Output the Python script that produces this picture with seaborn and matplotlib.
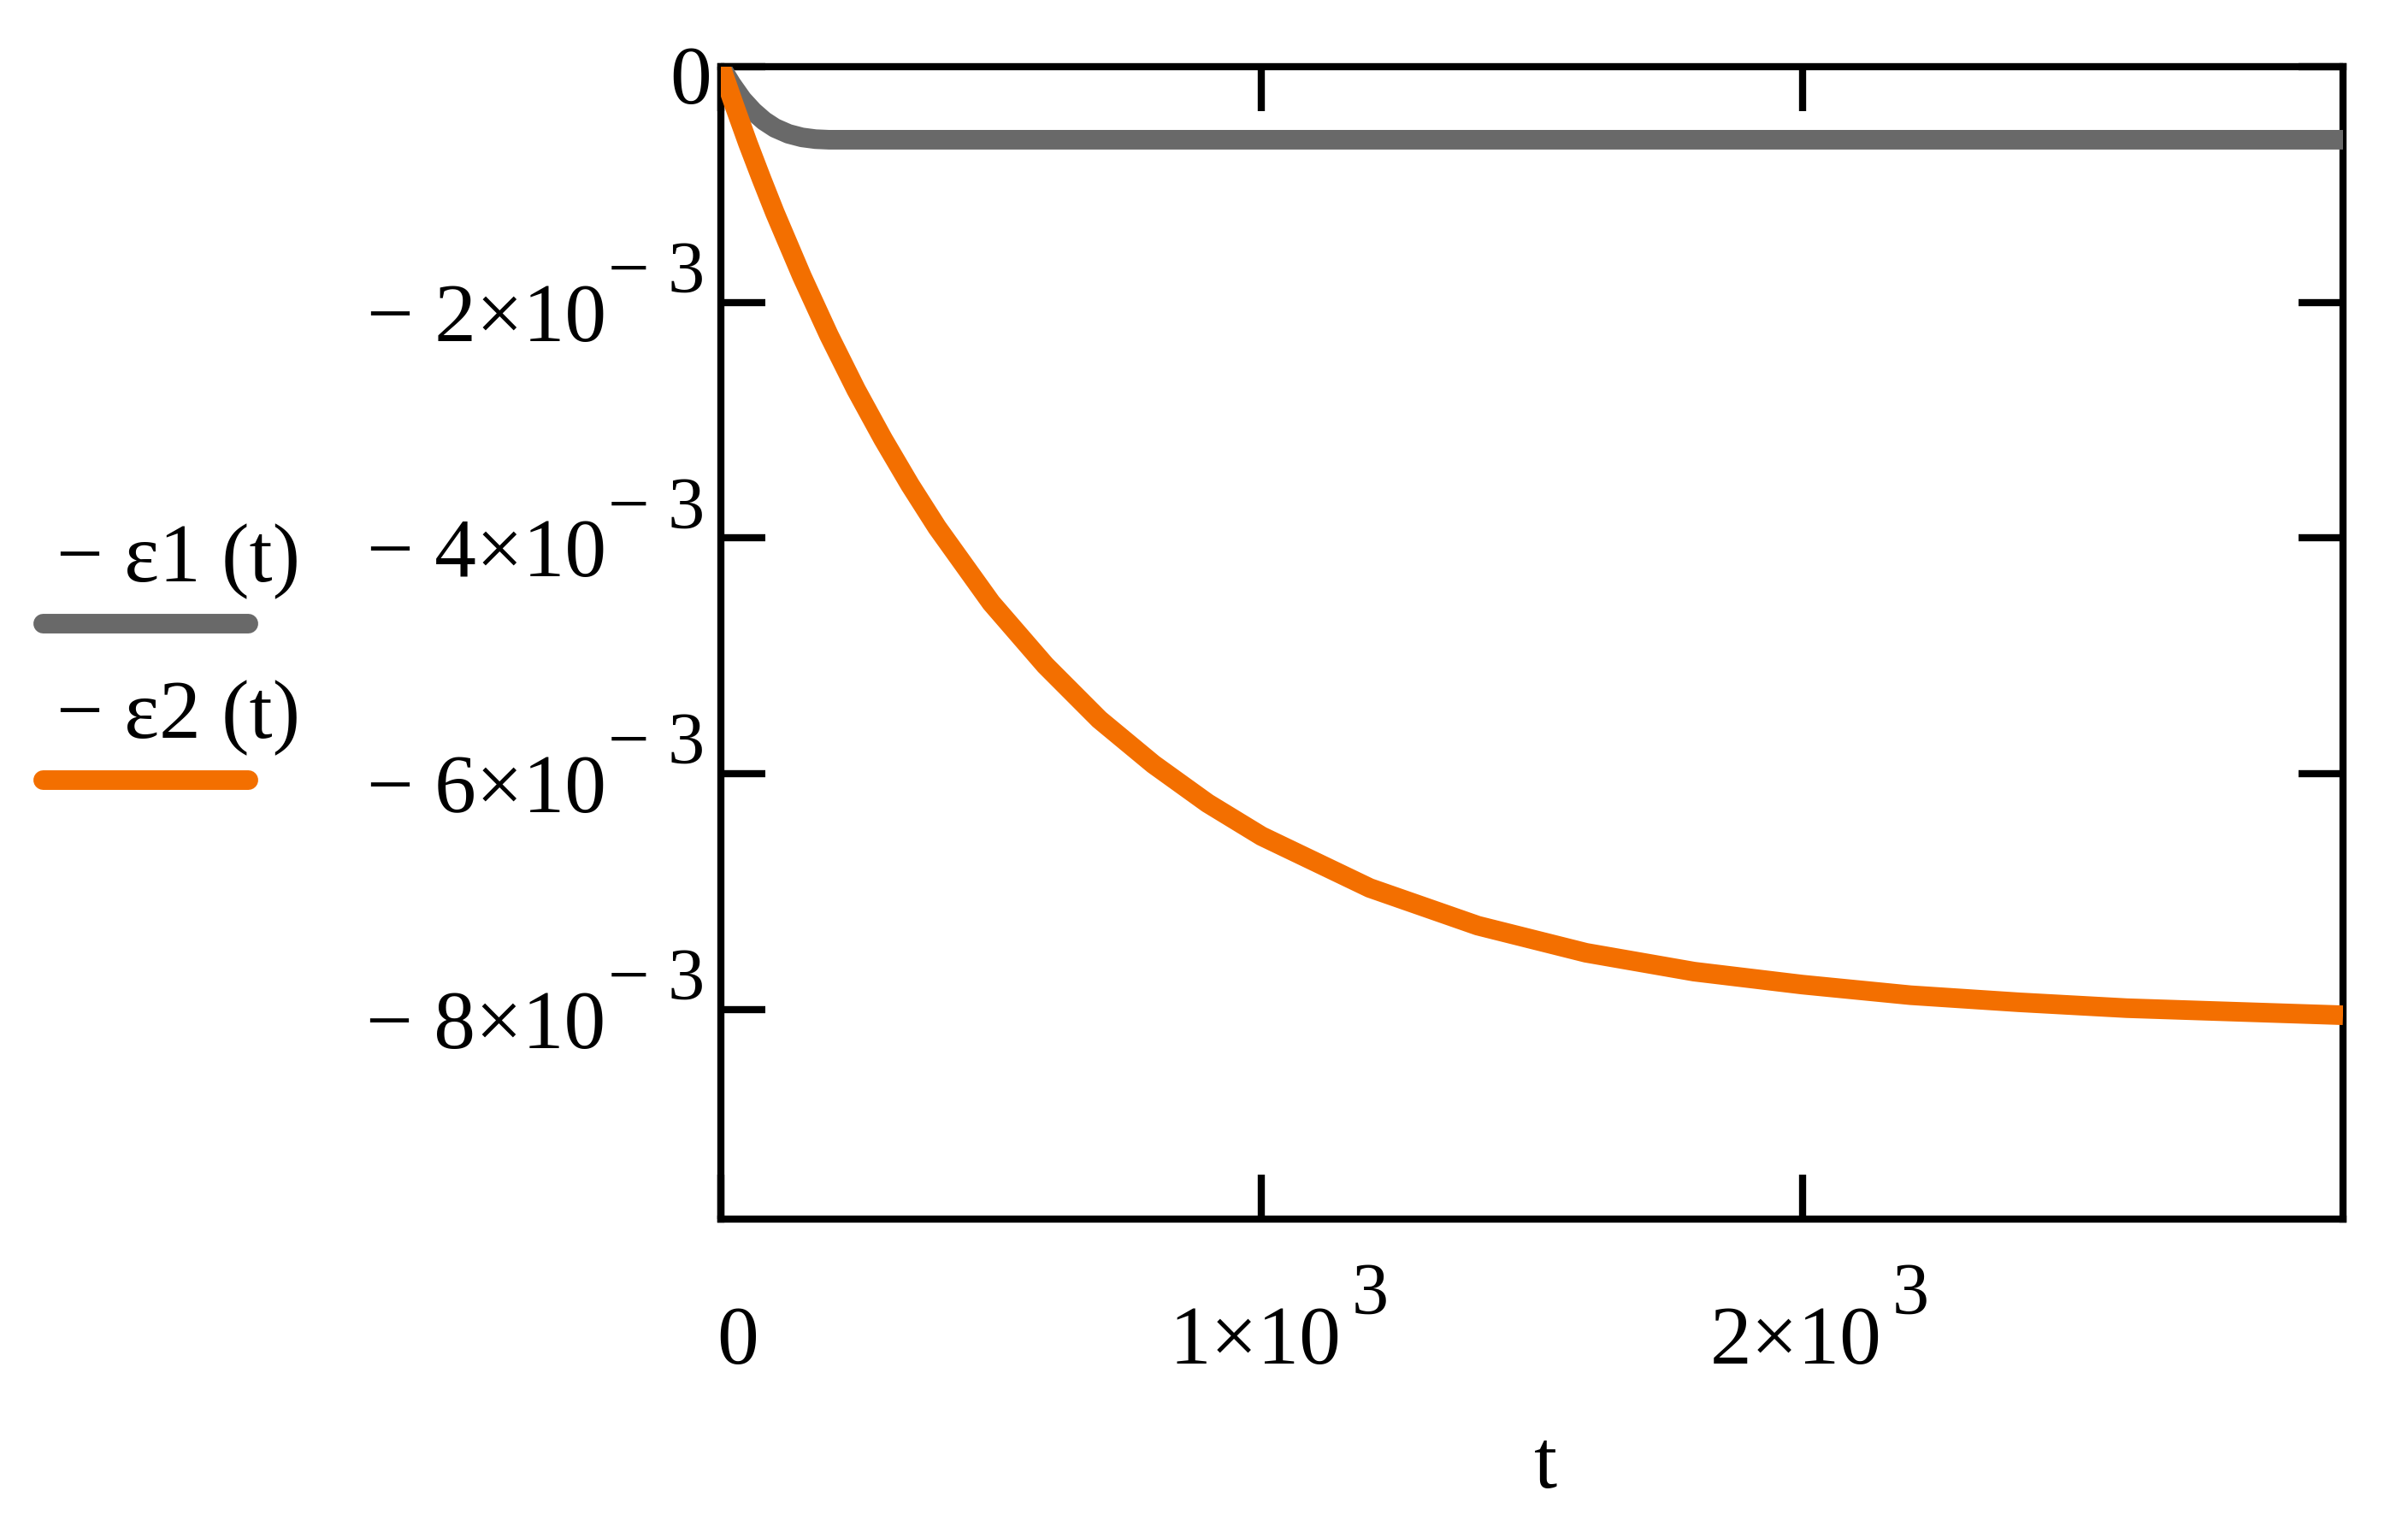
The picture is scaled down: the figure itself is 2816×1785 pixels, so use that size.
import numpy as np
import pandas as pd
import matplotlib
matplotlib.use("Agg")
import matplotlib.pyplot as plt
import seaborn as sns
from matplotlib.lines import Line2D

# ---------------- data ----------------
t_eps1 = [0, 20, 40, 60, 80, 100, 125, 150, 175, 200, 300, 500, 1000, 2000, 3000]
eps1 = [0.0, -0.15e-3, -0.28e-3, -0.38e-3, -0.46e-3, -0.52e-3, -0.57e-3, -0.60e-3,
        -0.615e-3, -0.62e-3, -0.62e-3, -0.62e-3, -0.62e-3, -0.62e-3, -0.62e-3]

t_eps2 = [0, 25, 50, 75, 100, 150, 200, 250, 300, 350, 400, 500, 600, 700, 800, 900,
          1000, 1200, 1400, 1600, 1800, 2000, 2200, 2400, 2600, 2800, 3000]
eps2 = [0.0, -0.33e-3, -0.65e-3, -0.95e-3, -1.24e-3, -1.78e-3, -2.28e-3, -2.74e-3,
        -3.16e-3, -3.55e-3, -3.91e-3, -4.55e-3, -5.08e-3, -5.54e-3, -5.92e-3, -6.25e-3,
        -6.53e-3, -6.97e-3, -7.29e-3, -7.52e-3, -7.68e-3, -7.79e-3, -7.88e-3, -7.94e-3,
        -7.99e-3, -8.02e-3, -8.05e-3]

series_labels = ["\u2212 \u03b51 (t)", "\u2212 \u03b52 (t)"]
series_colors = ["#696969", "#F36F00"]

x_ticks = [0, 1000, 2000]
x_tick_main = ["0", "1\u00d710", "2\u00d710"]
x_tick_exp = ["", "3", "3"]
y_ticks = [0, -2e-3, -4e-3, -6e-3, -8e-3]
y_tick_main = ["0", "\u2212 2\u00d710", "\u2212 4\u00d710", "\u2212 6\u00d710", "\u2212 8\u00d710"]
y_tick_exp = ["", "\u2212 3", "\u2212 3", "\u2212 3", "\u2212 3"]
x_label = "t"

# ---------------- style ----------------
sns.set_theme(style="white")
SERIF = ["Liberation Serif", "DejaVu Serif"]
plt.rcParams["font.family"] = SERIF
plt.rcParams["text.color"] = "black"
plt.rcParams["axes.labelcolor"] = "black"

W, H, DPI = 2816, 1785, 100
fig = plt.figure(figsize=(W / DPI, H / DPI), dpi=DPI)
fig.patch.set_facecolor("white")

ax_left, ax_right, ax_top, ax_bot = 843, 2740, 78, 1426
ax = fig.add_axes([ax_left / W, 1 - ax_bot / H, (ax_right - ax_left) / W, (ax_bot - ax_top) / H])
ax.set_facecolor("white")

df1 = pd.DataFrame({"t": t_eps1, "value": eps1})
df2 = pd.DataFrame({"t": t_eps2, "value": eps2})

LW = 16.5
sns.lineplot(data=df1, x="t", y="value", ax=ax, color=series_colors[0], linewidth=LW,
             legend=False, estimator=None, sort=False)
sns.lineplot(data=df2, x="t", y="value", ax=ax, color=series_colors[1], linewidth=LW,
             legend=False, estimator=None, sort=False)
for ln in ax.get_lines():
    ln.set_solid_capstyle("butt")
    ln.set_solid_joinstyle("round")

ax.set_xlim(0, 3000)
ax.set_ylim(-9.78e-3, 0)

for s in ax.spines.values():
    s.set_visible(True)
    s.set_color("black")
    s.set_linewidth(6)
    s.set_zorder(1)

ax.set_xticks(x_ticks)
ax.set_yticks(y_ticks)
ax.tick_params(axis="both", which="major", direction="in", length=37.5, width=6,
               color="black", top=True, right=True, bottom=True, left=True,
               labeltop=False, labelright=False, labelbottom=False, labelleft=False)
ax.set_xlabel("")
ax.set_ylabel("")

FS = 70
FS_SUP = 62

fig.canvas.draw()
renderer = fig.canvas.get_renderer()


def measure(s, size):
    tt = fig.text(0, 0, s, fontsize=size, family=SERIF)
    bb = tt.get_window_extent(renderer)
    tt.remove()
    return bb.width


def put(xpix, ypix, s, size, ha):
    fig.text(xpix / W, ypix / H, s, fontsize=size, family=SERIF, ha=ha,
             va="baseline", color="black")


# y tick labels (main part + raised exponent), positioned through the data transform
axis_x = ax.transAxes.transform((0, 0))[0]
for val, main, sup in zip(y_ticks, y_tick_main, y_tick_exp):
    ty = ax.transData.transform((0, val))[1]
    if sup:
        ws = measure(sup, FS_SUP)
        sx = axis_x - 19 - ws
        put(sx, ty + 12, sup, FS_SUP, "left")
        put(sx - 2, ty - 45, main, FS, "right")
    else:
        put(axis_x - 11, ty - 43, main, FS, "right")

# x tick labels
axis_y = ax.transAxes.transform((0, 0))[1]
base_y = axis_y - 169
for val, main, sup in zip(x_ticks, x_tick_main, x_tick_exp):
    tx = ax.transData.transform((val, 0))[0]
    wm = measure(main, FS)
    ws = measure(sup, FS_SUP) if sup else 0.0
    gap = 12 if sup else 0.0
    total = wm + gap + ws
    left = tx + 20 - total / 2
    put(left, base_y, main, FS, "left")
    if sup:
        put(left + wm + gap, base_y + 58, sup, FS_SUP, "left")

# axis title
ax.set_xlabel(x_label, fontsize=FS, va="baseline", color="black")
ax.xaxis.set_label_coords((1808 - ax_left) / (ax_right - ax_left), (ax_bot - 1740) / (ax_bot - ax_top))

# ---------------- legend (text above a line sample) ----------------
leg_text_y = [680, 863]
leg_line_y = [729, 912]
for lbl, col, ty, ly in zip(series_labels, series_colors, leg_text_y, leg_line_y):
    fig.text(66 / W, 1 - ty / H, lbl, fontsize=70, ha="left", va="baseline",
             family=SERIF, color="black")
    fig.add_artist(Line2D([50 / W, 290 / W], [1 - ly / H, 1 - ly / H], transform=fig.transFigure,
                          color=col, linewidth=LW, solid_capstyle="round"))

fig.savefig("out.png", dpi=DPI, facecolor="white")
